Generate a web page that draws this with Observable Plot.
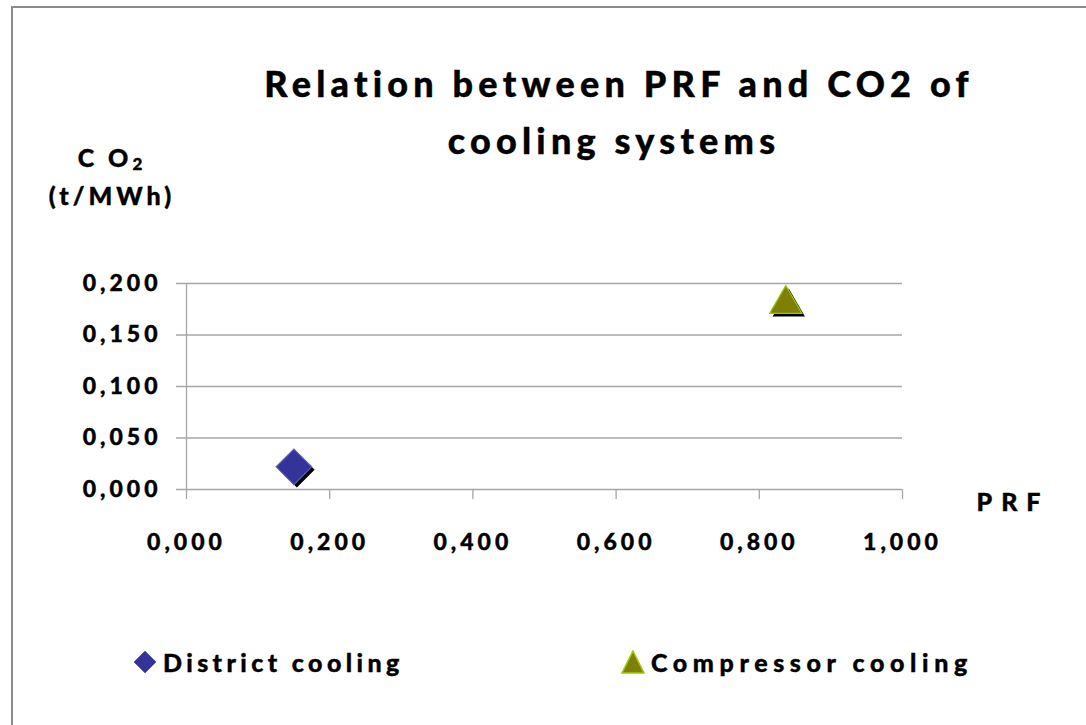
<!DOCTYPE html>
<html><head><meta charset="utf-8">
<script src="https://cdn.jsdelivr.net/npm/d3@7"></script>
<script src="https://cdn.jsdelivr.net/npm/@observablehq/plot@0.6"></script>
<style>
body{margin:0;background:#fff;}
#wrap{position:relative;width:1086px;height:725px;overflow:hidden;font-family:Lato,"Open Sans",sans-serif;font-weight:900;color:#000;}
#frame{position:absolute;left:11px;top:6px;width:1200px;height:900px;border:2px solid #8c8c8c;box-sizing:border-box;}
.t{position:absolute;white-space:nowrap;transform:translate(-50%,-50%);line-height:1;-webkit-text-stroke:0.4px #000;}
#chart{position:absolute;left:0;top:0;}
#chart svg text{font-weight:900;letter-spacing:4px;stroke:#000;stroke-width:0.4px;}
.title{font-size:36px;letter-spacing:5.2px;}
.ax{font-size:25px;letter-spacing:4px;}
.leg{font-size:25px;position:absolute;transform:translateY(-50%);white-space:nowrap;line-height:1;display:flex;align-items:center;-webkit-text-stroke:0.4px #000;}
.leg svg{margin-right:5px;}
</style></head>
<body><div id="wrap"><div id="frame"></div><div id="chart"></div>
<div class="t title" style="left:619px;top:83px">Relation between PRF and CO2 of</div>
<div class="t title" style="left:614px;top:140px">cooling systems</div>
<div class="t ax" style="left:112px;top:158px">C O<span style="font-size:17px;vertical-align:-3px">2</span></div>
<div class="t ax" style="left:112px;top:195px">(t/MWh)</div>
<div class="t ax" style="left:1013px;top:501px;letter-spacing:9px">PRF</div>
<div id="legend"></div>
</div>
<script>
const series = ["District cooling", "Compressor cooling"];
const prf = [0.15, 0.837];
const co2 = [0.022, 0.18];
const xTicks = [0, 0.2, 0.4, 0.6, 0.8, 1.0];
const yTicks = [0, 0.05, 0.1, 0.15, 0.2];
const fills = ["#333399", "#808000"];
const strokes = ["#6262b0", "#99cc00"];
const symbols = ["diamond2", "triangle"];
const sizes = [16, 12];

const data = series.map((s, i) => ({name: s, x: prf[i], y: co2[i], fill: fills[i], stroke: strokes[i], symbol: symbols[i], r: sizes[i]}));
const fmt = d => d3.format(".3f")(d).replace(".", ",");

const plot = Plot.plot({
  width: 1086, height: 725,
  marginLeft: 186, marginRight: 184, marginTop: 283, marginBottom: 236,
  x: {domain: [0, 1]},
  y: {domain: [0, 0.2]},
  r: {type: "identity"},
  style: {fontFamily: "Lato, 'Open Sans', sans-serif", fontSize: "23px", background: "transparent"},
  marks: [
    Plot.ruleY(yTicks, {y: d => d, stroke: "#a6a6a6", strokeWidth: 1.3, insetLeft: -10}),
    Plot.ruleX([0], {stroke: "#a6a6a6", strokeWidth: 1.3}),
    Plot.axisY(yTicks, {tickSize: 0, tickPadding: 25, tickFormat: fmt, fontSize: 23, fill: "#000", label: null}),
    Plot.axisX(xTicks, {tickSize: 10, tickPadding: 34, tickFormat: fmt, fontSize: 23, fill: "#000", stroke: "#a6a6a6", strokeWidth: 1.3, label: null}),
    Plot.dot(data, {x: "x", y: "y", symbol: "symbol", r: "r", fill: "#000", dx: 3, dy: 3}),
    Plot.dot(data, {x: "x", y: "y", symbol: "symbol", r: "r", fill: "fill", stroke: "stroke", strokeWidth: 1.2})
  ]
});
document.getElementById("chart").appendChild(plot);

// legend
const legPos = [132, 620];
const legSpacing = [4.4, 5.6];
const legend = document.getElementById("legend");
series.forEach((s, i) => {
  const item = document.createElement("div");
  item.className = "leg";
  item.style.left = legPos[i] + "px";
  item.style.top = "662px";
  item.style.letterSpacing = legSpacing[i] + "px";
  const sym = symbols[i] === "diamond2"
    ? `<svg width="26" height="26"><path d="M13,2L24,13L13,24L2,13Z" fill="${fills[i]}" stroke="${strokes[i]}" stroke-width="1"/></svg>`
    : `<svg width="26" height="26"><path d="M13,2L24,24L2,24Z" fill="${fills[i]}" stroke="${strokes[i]}" stroke-width="1.5"/></svg>`;
  item.innerHTML = sym + `<span>${s}</span>`;
  legend.appendChild(item);
});
</script>
</body></html>
